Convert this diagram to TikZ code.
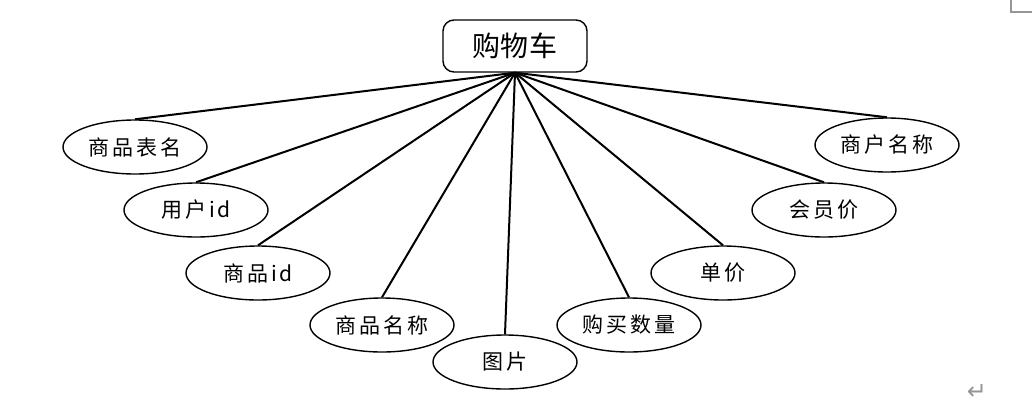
\documentclass[tikz,border=0pt]{standalone}
\usepackage{fontspec}
\usetikzlibrary{shapes.geometric}
\newfontfamily\cjk{Noto Sans CJK SC}
\newfontfamily\symfont{DejaVu Sans}
\definecolor{mark1}{RGB}{150, 150, 150}

\begin{document}
\begin{tikzpicture}[x=1pt, y=-1pt, line width=1.4pt,
  entity/.style={rectangle, rounded corners=11pt, draw, minimum width=144pt, minimum height=52pt, inner sep=0pt,
    font=\cjk\fontsize{28}{30}\selectfont\addfontfeature{LetterSpace=2}},
  attr/.style={ellipse, draw, minimum width=144pt, minimum height=54pt, inner sep=0pt,
    font=\cjk\fontsize{21}{24}\selectfont\addfontfeature{LetterSpace=14}}]
  \useasboundingbox (0,0) rectangle (1032,408);
  \node[entity] (cart) at (515,46) {购物车};

  \node[attr] (a1) at (135,147) {商品表名};
  \node[attr] (a2) at (196,210) {用户id};
  \node[attr] (a3) at (258,273) {商品id};
  \node[attr] (a4) at (382,325) {商品名称};
  \node[attr] (a5) at (505,362) {图片};
  \node[attr] (a6) at (629,325) {购买数量};
  \node[attr] (a7) at (723,273) {单价};
  \node[attr] (a8) at (824,210) {会员价};
  \node[attr] (a9) at (887,145) {商户名称};

  \foreach \to in {a1,a2,a3,a4,a5,a6,a7,a8,a9}
   \draw[line width=2pt] (cart.south) -- (\to.north);

  % page marks
  \draw[mark1, line width=1.2pt] (1011,0) -- (1011,12) -- (1032,12);
  \node[text=mark1, font=\symfont\fontsize{24}{24}\selectfont] (ret) at (977,392) {↵};
\end{tikzpicture}
\end{document}
